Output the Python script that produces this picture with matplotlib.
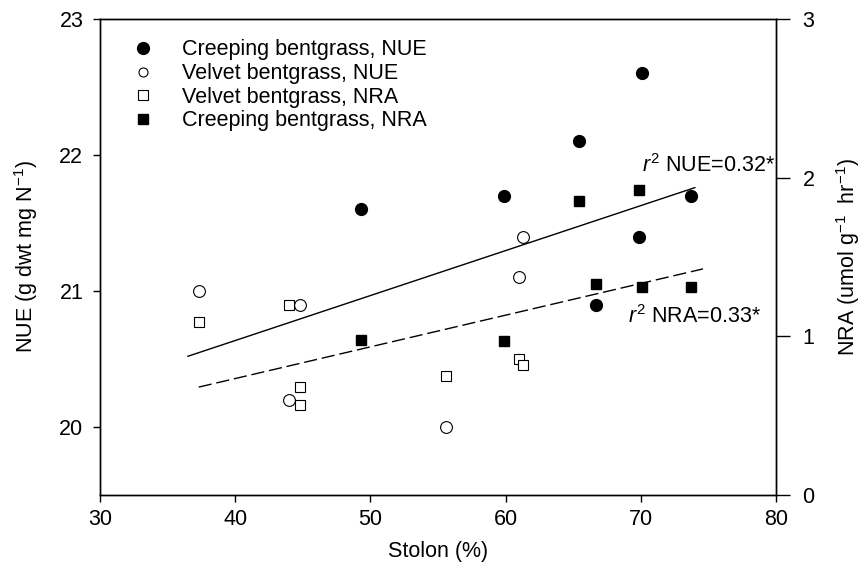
import numpy as np
import matplotlib
matplotlib.use("Agg")
import matplotlib.pyplot as plt
from matplotlib.lines import Line2D

plt.rcParams['font.family'] = ['Liberation Sans', 'DejaVu Sans']
plt.rcParams['mathtext.fontset'] = 'custom'
plt.rcParams['mathtext.rm'] = 'Liberation Sans'
plt.rcParams['mathtext.it'] = 'Liberation Sans:italic'

# Creeping bentgrass
creep_nue_x = [49.3, 59.9, 65.4, 70.1, 69.9, 73.7, 66.7]
creep_nue_y = [21.6, 21.7, 22.1, 22.6, 21.4, 21.7, 20.9]
creep_nra_x = [49.3, 59.9, 65.4, 69.9, 66.7, 70.1, 73.7]
creep_nra_y = [0.98, 0.97, 1.85, 1.92, 1.33, 1.31, 1.31]

# Velvet bentgrass
velv_nue_x = [37.3, 44.8, 44.0, 61.3, 61.0, 55.6]
velv_nue_y = [21.0, 20.9, 20.2, 21.4, 21.1, 20.0]
velv_nra_x = [37.3, 44.0, 44.8, 44.8, 61.0, 61.3, 55.6]
velv_nra_y = [1.09, 1.20, 0.68, 0.57, 0.86, 0.82, 0.75]

# regression lines
nue_fit_x = [36.5, 74.0]
nue_fit_y = [20.52, 21.76]
nra_fit_x = [37.3, 74.6]
nra_fit_y = [0.68, 1.425]

fig = plt.figure(figsize=(8.65, 5.77), dpi=100)
ax = fig.add_axes([0.1156, 0.1421, 0.7815, 0.8250])
ax2 = ax.twinx()

fs = 15.5
ax.plot(nue_fit_x, nue_fit_y, color='black', lw=1)
ax2.plot(nra_fit_x, nra_fit_y, color='black', lw=1, dashes=(9.5, 3.5))

ms = 8.5
ax.plot(creep_nue_x, creep_nue_y, 'o', ms=ms, mfc='black', mec='black', ls='none')
ax.plot(velv_nue_x, velv_nue_y, 'o', ms=ms, mfc='white', mec='black', mew=0.8, ls='none')
ax2.plot(velv_nra_x, velv_nra_y, 's', ms=7.5, mfc='white', mec='black', mew=0.8, ls='none')
ax2.plot(creep_nra_x, creep_nra_y, 's', ms=7.5, mfc='black', mec='black', ls='none')

ax.set_xlim(30, 80)
ax.set_ylim(19.5, 23)
ax2.set_ylim(0, 3)
ax.set_xticks([30, 40, 50, 60, 70, 80])
ax.set_yticks([20, 21, 22, 23])
ax2.set_yticks([0, 1, 2, 3])

for a in (ax, ax2):
	a.tick_params(direction='out', width=1, labelsize=fs, colors='black')
	for s in a.spines.values():
		s.set_linewidth(1)
ax.tick_params(axis='x', length=5, pad=5)
ax.tick_params(axis='y', length=5, pad=7)
ax2.tick_params(axis='y', length=10, pad=9)

ax.set_xlabel('Stolon (%)', fontsize=fs, labelpad=8)
ax.set_ylabel(r'NUE (g dwt mg N$^{-1}$)', fontsize=fs, labelpad=14)
ax2.set_ylabel(r'NRA (umol g$^{-1}$  hr$^{-1}$)', fontsize=fs, labelpad=14)

ax2.text(0.802, 0.693, r'$\it{r}^{2}$ NUE=0.32*', transform=ax.transAxes,
	fontsize=fs, ha='left', va='center')
ax2.text(0.781, 0.374, r'$\it{r}^{2}$ NRA=0.33*', transform=ax.transAxes,
	fontsize=fs, ha='left', va='center')

handles = [
	Line2D([], [], marker='o', ls='none', ms=8.5, mfc='black', mec='black'),
	Line2D([], [], marker='o', ls='none', ms=6.5, mfc='white', mec='black', mew=0.8),
	Line2D([], [], marker='s', ls='none', ms=6.5, mfc='white', mec='black', mew=0.8),
	Line2D([], [], marker='s', ls='none', ms=7, mfc='black', mec='black'),
]
labels = ['Creeping bentgrass, NUE', 'Velvet bentgrass, NUE',
	'Velvet bentgrass, NRA', 'Creeping bentgrass, NRA']
ax2.legend(handles, labels, loc='upper left', bbox_to_anchor=(0.035, 0.975),
	frameon=False, fontsize=fs, handlelength=1.0, handletextpad=1.3,
	labelspacing=0.12, borderaxespad=0)

fig.savefig('out.png', dpi=100)
